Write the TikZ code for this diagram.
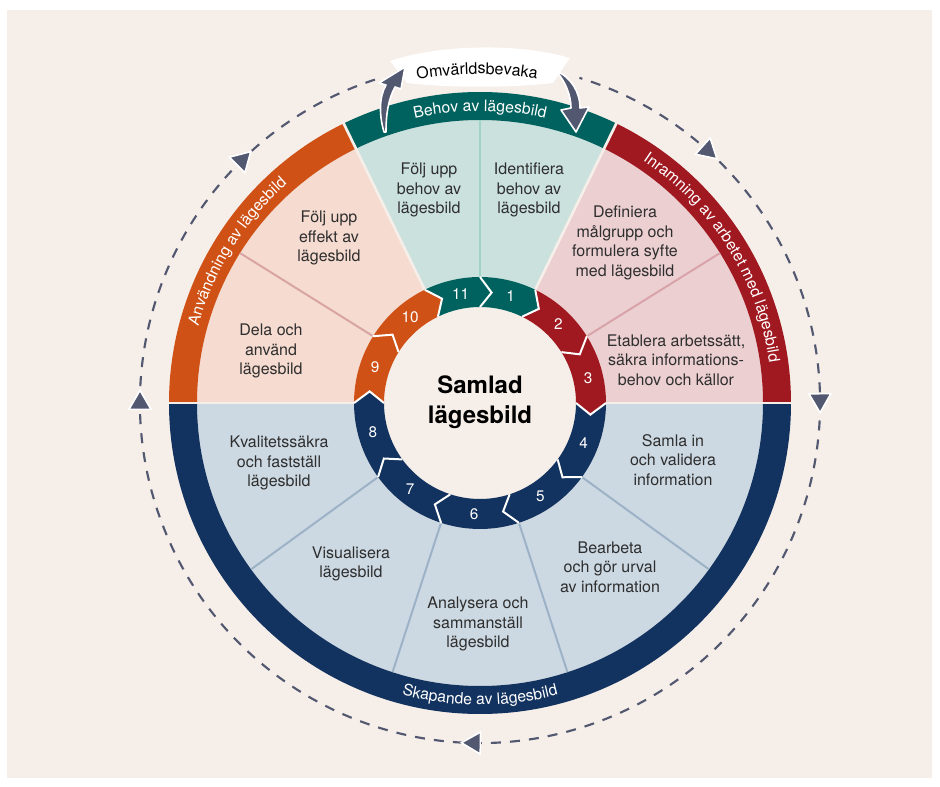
\documentclass[tikz,border=0pt]{standalone}
\usepackage{fontspec}
\setmainfont{TeX Gyre Heros}
\usetikzlibrary{decorations.text,shapes.geometric}

\definecolor{bgbeige}{HTML}{F6EEE8}
\definecolor{tealdark}{HTML}{00625E}
\definecolor{teallight}{HTML}{CBE1DE}
\definecolor{tealline}{HTML}{9ED5C5}
\definecolor{reddark}{HTML}{A01820}
\definecolor{redlight}{HTML}{ECCFD1}
\definecolor{redline}{HTML}{D9A4A9}
\definecolor{orangedark}{HTML}{CF5116}
\definecolor{orangelight}{HTML}{F5DBD0}
\definecolor{orangeline}{HTML}{D8A4A4}
\definecolor{navydark}{HTML}{12325F}
\definecolor{navylight}{HTML}{CCD9E3}
\definecolor{navyline}{HTML}{9DB2C7}
\definecolor{arrowgray}{HTML}{535871}
\definecolor{textgray}{HTML}{2E2E2E}

\newcommand{\bandfont}{\fontsize{11.8}{14}\selectfont}

\begin{document}
\begin{tikzpicture}[x=0.75pt,y=0.75pt,yscale=-1,xscale=1,
  steptext/.style={text=textgray,align=center,inner sep=0.75pt,font=\fontsize{12}{14.6}\selectfont},
  numtext/.style={text=white,inner sep=0pt,font=\fontsize{11.5}{12}\selectfont},
  tri/.style={regular polygon,regular polygon sides=3,fill=arrowgray,draw=white,line width=1.2pt,minimum size=19pt,inner sep=0pt},
  curvearrow/.style={fill=arrowgray,draw=white,line width=1.2pt,line join=round}]

%Background
\fill[white] (0,0) rectangle (940,787);
\useasboundingbox (0,0) rectangle (940,787);
\fill[bgbeige] (7,10) rectangle (932,778);

\begin{scope}[shift={(480,403)},yscale=-1]
%Sector fills
\foreach \s/\e/\c in {116/64/teallight,64/0/redlight,180/116/orangelight,360/180/navylight}
  \fill[\c] (\s:126) arc[start angle=\s,end angle=\e,radius=126] -- (\e:283) arc[start angle=\e,end angle=\s,radius=283] -- cycle;
%Outer bands
\foreach \s/\e/\c in {116/64/tealdark,64/0/reddark,180/116/orangedark,360/180/navydark}
  \fill[\c] (\s:283) arc[start angle=\s,end angle=\e,radius=283] -- (\e:311) arc[start angle=\e,end angle=\s,radius=311] -- cycle;
%Step divider lines
\foreach \a/\c in {90/tealline,32/redline,148/orangeline,216/navyline,252/navyline,288/navyline,324/navyline}
  \draw[\c,line width=1.5pt] (\a:127) -- (\a:283);
%Gaps between phases
\foreach \a in {0,64,116,180}
  \draw[bgbeige,line width=2pt] (\a:126) -- (\a:312);

%Numbered ring
\foreach \s/\e/\c in {116/90/tealdark,90/64/tealdark,64/32/reddark,32/0/reddark,360/324/navydark,324/288/navydark,288/252/navydark,252/216/navydark,216/180/navydark,180/148/orangedark,148/116/orangedark}
  \fill[\c] (\s:126) arc[start angle=\s,end angle=\e,radius=126] -- ({\e-6}:111) -- (\e:96) arc[start angle=\e,end angle=\s,radius=96] -- ({\s-6}:111) -- cycle;
\foreach \e in {0,32,64,90,116,148,180,216,252,288,324}
  \draw[white,line width=1.5pt] (\e:126) -- ({\e-6}:111) -- (\e:96);
\foreach \s/\e/\n in {116/90/11,90/64/1,64/32/2,32/0/3,360/324/4,324/288/5,288/252/6,252/216/7,216/180/8,180/148/9,148/116/10}{
  \pgfmathsetmacro{\m}{(\s+\e)/2-3}
  \node[numtext] (n\n) at (\m:111) {\n};
}

%Dashed cycle with arrow heads
\draw[arrowgray,line width=1.6pt,dash pattern=on 7.5pt off 6.8pt] (108:340) arc[start angle=108,end angle=433,radius=340];
\foreach \a/\r [count=\i] in {180/0,134.5/-45.5,48/-132,0.5/-179.5,269/89}
  \node[tri,rotate=\r] (tri\i) at (\a:340) {};

%Band labels
\path[decorate,decoration={text along path,text={|\bandfont|Behov av lägesbild},text color=white,text align=center}] (115:292) arc[start angle=115,end angle=65,radius=292];
\path[decorate,decoration={text along path,text={|\bandfont|Inramning av arbetet med lägesbild},text color=white,text align=center}] (62:292) arc[start angle=62,end angle=2,radius=292];
\path[decorate,decoration={text along path,text={|\bandfont|Användning av lägesbild},text color=white,text align=center}] (178:292) arc[start angle=178,end angle=118,radius=292];
\path[decorate,decoration={text along path,text={|\bandfont|Skapande av lägesbild},text color=white,text align=center}] (240:302) arc[start angle=240,end angle=300,radius=302];
\end{scope}

%Omvärldsbevaka banner
\fill[white] (390,61) .. controls (440,44) and (520,43) .. (570,58) -- (553,83) .. controls (510,88) and (450,88) .. (407,83) -- cycle;
\begin{scope}[shift={(480,403)},yscale=-1]
\path[decorate,decoration={text along path,text={|\fontsize{12}{14}\selectfont|Omvärldsbevaka},text color=black,text align=center}] (106:329) arc[start angle=106,end angle=75,radius=329];
\end{scope}

%Curved arrows
\filldraw[curvearrow] (384,132) .. controls (379,115) and (379,97) .. (386,85) -- (379,83) -- (405,67) -- (401,89) -- (395,87) .. controls (388,100) and (386,115) .. (386,132) -- cycle;
\filldraw[curvearrow] (556,71) .. controls (566,82) and (571,96) .. (571,108) -- (561,110) -- (576,132) -- (589,107) -- (580,108) .. controls (580,92) and (571,77) .. (556,71) -- cycle;

%Step texts
\node[steptext] (foljbehov) at (429,190) {Följ upp\\behov av\\lägesbild};
\node[steptext] (identifiera) at (529,190) {Identifiera\\behov av\\lägesbild};
\node[steptext] (definiera) at (625,243) {Definiera\\målgrupp och\\formulera syfte\\med lägesbild};
\node[steptext] (etablera) at (676,360) {Etablera arbetssätt,\\säkra informations-\\behov och källor};
\node[steptext] (samla) at (673,460) {Samla in\\och validera\\information};
\node[steptext] (bearbeta) at (610,567) {Bearbeta\\och gör urval\\av information};
\node[steptext] (analysera) at (478,624) {Analysera och\\sammanställ\\lägesbild};
\node[steptext] (visualisera) at (351,564) {Visualisera\\lägesbild};
\node[steptext] (kvalitet) at (279,463) {Kvalitetssäkra\\och fastställ\\lägesbild};
\node[steptext] (dela) at (271,351) {Dela och\\använd\\lägesbild};
\node[steptext] (foljeffekt) at (329,238) {Följ upp\\effekt av\\lägesbild};

%Centre
\node[align=center,inner sep=0pt,font=\bfseries\fontsize{18}{22.5}\selectfont] (samlad) at (480,402) {Samlad\\lägesbild};

\end{tikzpicture}
\end{document}
